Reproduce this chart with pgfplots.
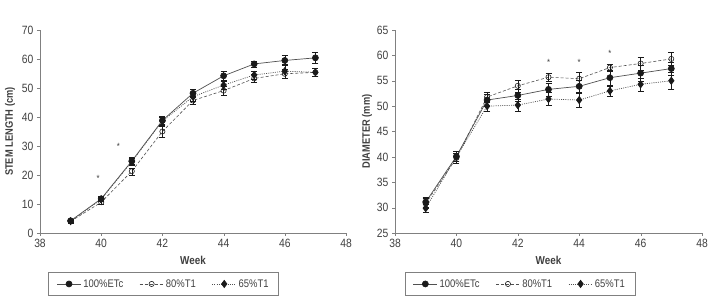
\documentclass[border=0pt]{standalone}
\usepackage{fontspec}
\setmainfont{Liberation Sans}[FakeStretch=0.86]
\usepackage{pgfplots}
\pgfplotsset{compat=1.18}
\definecolor{txt}{HTML}{404040}
\definecolor{ln}{HTML}{505050}
\definecolor{ax}{HTML}{808080}
\definecolor{mk}{HTML}{1A1A1A}
\pgfplotsset{
  common/.style={
    scale only axis, width=306pt, height=203pt,
    axis lines=left, axis line style={ax, -}, 
    tick style={ax}, tick align=outside, major tick length=3pt,
    xmin=38, xmax=48, xtick={38,40,...,48},
    ticklabel style={font=\fontsize{12}{13}\selectfont, text=txt},
    /pgf/number format/assume math mode=true,
    xlabel={Week},
    xlabel style={font=\bfseries\fontsize{11.5}{13}\selectfont, text=txt, at={(axis description cs:0.5,-0.135)}, anchor=center},
    ylabel style={font=\bfseries\fontsize{10.8}{12}\selectfont, text=txt, rotate=0, anchor=center},
    legend style={draw=ax, font=\fontsize{11}{13}\selectfont, text=txt, anchor=center,
      legend columns=3, /tikz/every even column/.append style={column sep=14pt},
      inner xsep=8pt, inner ysep=5pt},
    legend image code/.code={\draw[#1] (0pt,0pt) -- (24pt,0pt); \draw[#1,only marks] plot coordinates {(12pt,0pt)};},
    error bars/y dir=both, error bars/y explicit,
    error bars/error bar style={mk, solid, line width=0.5pt},
    error bars/error mark options={rotate=90, mk, mark size=3pt, solid},
  },
  s1/.style={ln, solid, line width=0.7pt, mark=*, mark size=3pt, mark options={fill=mk, draw=mk, solid}},
  s2/.style={ln, dashed, dash pattern=on 3pt off 2pt, line width=0.6pt, mark=o, mark size=2.6pt, mark options={fill=white, draw=mk, solid}},
  s3/.style={ln, dash pattern=on 1pt off 1.2pt, line width=0.7pt, mark=diamond*, mark size=3.6pt, mark options={fill=mk, draw=mk, solid}},
}
\begin{document}
\begin{tikzpicture}
\useasboundingbox (0,0) rectangle (709pt,299pt);
\begin{axis}[common, at={(40pt,66pt)}, anchor=south west,
  ymin=0, ymax=70, ytick={0,10,...,70},
  ylabel={STEM LENGTH (cm)},
  ylabel style={at={(axis description cs:-0.098,0.5)}, rotate=0},
  legend style={at={(axis description cs:0.404,-0.251)}},
]
\addplot[s1] coordinates {
(39,4.2) +- (0,0.5) (40,11.8) +- (0,0.8) (41,24.8) +- (0,1.2) (42,38.8) +- (0,1.4) (43,48.2) +- (0,1.5)
(44,54.2) +- (0,1.5) (45,58.3) +- (0,1.0) (46,59.5) +- (0,1.8) (47,60.4) +- (0,1.8)};
\addlegendentry{100\%ETc}
\addplot[s2] coordinates {
(39,4.0) +- (0,0.5) (40,10.6) +- (0,0.8) (41,21.3) +- (0,1.2) (42,35.0) +- (0,1.8) (43,45.7) +- (0,1.2)
(44,49.1) +- (0,1.5) (45,53.3) +- (0,1.3) (46,54.9) +- (0,1.5) (47,55.4) +- (0,1.5)};
\addlegendentry{80\%T1}
\addplot[s3] coordinates {
(39,4.1) +- (0,0.5) (40,11.6) +- (0,0.8) (41,24.6) +- (0,1.2) (42,38.6) +- (0,1.4) (43,47.0) +- (0,1.5)
(44,51.0) +- (0,1.5) (45,54.5) +- (0,1.3) (46,55.8) +- (0,2.3) (47,55.4) +- (0,1.3)};
\addlegendentry{65\%T1}
\node[text=txt, font=\small] at (axis cs:39.9,18.7) {*};
\node[text=txt, font=\small] at (axis cs:40.56,29.8) {*};
\node[text=txt, font=\bfseries\fontsize{10}{11}\selectfont] at (axis description cs:0.01,1.074) {A};
\end{axis}
\begin{axis}[common, at={(395pt,66pt)}, anchor=south west, width=307pt,
  ymin=25, ymax=65, ytick={25,30,...,65},
  ylabel={DIAMETER (mm)},
  ylabel style={at={(axis description cs:-0.091,0.5)}},
  legend style={at={(axis description cs:0.407,-0.251)}},
]
\addplot[s1] coordinates {
(39,31.1) +- (0,1.0) (40,40.1) +- (0,1.0) (41,51.2) +- (0,1.2) (42,52.1) +- (0,1.2) (43,53.3) +- (0,1.3)
(44,53.9) +- (0,1.3) (45,55.6) +- (0,1.5) (46,56.5) +- (0,1.5) (47,57.4) +- (0,1.3)};
\addlegendentry{100\%ETc}
\addplot[s2] coordinates {
(39,30.8) +- (0,1.0) (40,39.8) +- (0,1.0) (41,51.8) +- (0,1.0) (42,54.0) +- (0,1.2) (43,55.7) +- (0,0.8)
(44,55.4) +- (0,1.2) (45,57.6) +- (0,0.7) (46,58.4) +- (0,1.3) (47,59.3) +- (0,1.3)};
\addlegendentry{80\%T1}
\addplot[s3] coordinates {
(39,29.9) +- (0,0.8) (40,40.0) +- (0,0.8) (41,50.0) +- (0,1.0) (42,50.2) +- (0,1.2) (43,51.4) +- (0,1.3)
(44,51.2) +- (0,1.5) (45,53.0) +- (0,1.0) (46,54.3) +- (0,1.3) (47,55.0) +- (0,1.7)};
\addlegendentry{65\%T1}
\node[text=txt, font=\small] at (axis cs:43,58.6) {*};
\node[text=txt, font=\small] at (axis cs:44,58.6) {*};
\node[text=txt, font=\small] at (axis cs:45,60.4) {*};
\node[text=txt, font=\bfseries\fontsize{10}{11}\selectfont] at (axis description cs:0.01,1.074) {B};
\end{axis}
\end{tikzpicture}
\end{document}
